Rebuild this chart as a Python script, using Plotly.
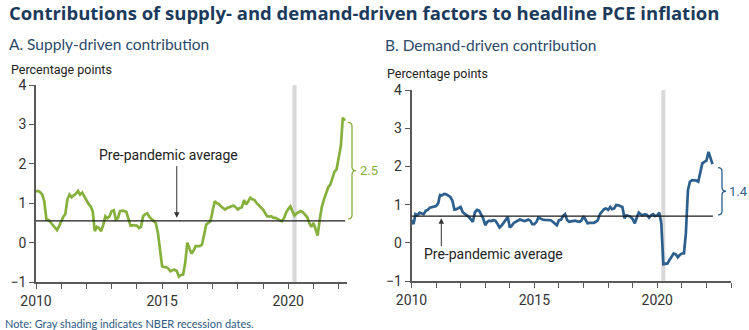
import plotly.graph_objects as go
import pandas as pd

# ---- data (monthly, Jan 2010 - Apr 2022) ----
supply = [
    1.30, 1.31, 1.28, 1.22, 1.05, 0.58, 0.58, 0.52, 0.45, 0.38, 0.32, 0.42,   # 2010
    0.55, 0.66, 0.72, 1.10, 1.22, 1.15, 1.20, 1.24, 1.31, 1.22, 1.27, 1.18,   # 2011
    1.05, 0.98, 0.92, 0.80, 0.29, 0.40, 0.37, 0.29, 0.45, 0.67, 0.62, 0.67,   # 2012
    0.80, 0.82, 0.58, 0.62, 0.80, 0.81, 0.80, 0.78, 0.60, 0.43, 0.44, 0.43,   # 2013
    0.43, 0.37, 0.40, 0.67, 0.72, 0.74, 0.65, 0.60, 0.55, 0.50, 0.25, -0.15,  # 2014
    -0.60, -0.62, -0.62, -0.66, -0.73, -0.70, -0.69, -0.72, -0.86, -0.82, -0.81, -0.52,  # 2015
    0.00, -0.15, -0.28, -0.20, -0.09, -0.09, -0.09, -0.05, 0.20, 0.46, 0.50, 0.54,  # 2016
    0.80, 1.05, 1.00, 0.98, 0.92, 0.88, 0.84, 0.88, 0.90, 0.92, 0.94, 0.90,   # 2017
    0.84, 0.88, 0.90, 1.08, 0.97, 1.05, 1.14, 1.10, 1.08, 1.00, 0.95, 0.88,   # 2018
    0.84, 0.75, 0.67, 0.66, 0.67, 0.63, 0.63, 0.60, 0.57, 0.54, 0.62, 0.76,   # 2019
    0.85, 0.92, 0.80, 0.69, 0.74, 0.78, 0.80, 0.77, 0.71, 0.65, 0.50, 0.40,   # 2020
    0.50, 0.30, 0.18, 0.58, 0.90, 1.09, 1.25, 1.40, 1.47, 1.65, 1.80, 1.86,   # 2021
    2.15, 2.45, 3.17, 3.09,                                                   # 2022
]
demand = [
    0.59, 0.49, 0.75, 0.72, 0.79, 0.76, 0.75, 0.84, 0.86, 0.92, 0.94, 0.95,   # 2010
    0.96, 1.03, 1.25, 1.24, 1.28, 1.27, 1.24, 1.20, 1.10, 0.87, 0.88, 0.92,   # 2011
    0.94, 0.80, 0.77, 0.72, 0.68, 0.62, 0.55, 0.80, 0.86, 0.84, 0.75, 0.64,   # 2012
    0.46, 0.55, 0.58, 0.57, 0.59, 0.58, 0.50, 0.40, 0.45, 0.51, 0.60, 0.68,   # 2013
    0.40, 0.45, 0.52, 0.55, 0.58, 0.61, 0.59, 0.57, 0.58, 0.61, 0.58, 0.49,   # 2014
    0.49, 0.55, 0.66, 0.63, 0.61, 0.60, 0.60, 0.59, 0.59, 0.55, 0.50, 0.46,   # 2015
    0.59, 0.60, 0.70, 0.75, 0.60, 0.55, 0.56, 0.57, 0.58, 0.56, 0.55, 0.58,   # 2016
    0.70, 0.60, 0.51, 0.52, 0.52, 0.52, 0.55, 0.59, 0.75, 0.81, 0.88, 0.90,   # 2017
    0.86, 0.94, 0.88, 0.90, 0.99, 0.98, 0.96, 0.94, 0.64, 0.72, 0.70, 0.68,   # 2018
    0.62, 0.51, 0.65, 0.79, 0.74, 0.72, 0.75, 0.73, 0.66, 0.72, 0.75, 0.70,   # 2019
    0.72, 0.79, 0.51, -0.56, -0.55, -0.54, -0.45, -0.37, -0.28, -0.30, -0.38, -0.32,  # 2020
    -0.28, -0.28, 0.24, 1.38, 1.60, 1.64, 1.64, 1.63, 1.60, 1.80, 2.08, 2.12,  # 2021
    2.15, 2.38, 2.21, 2.06,                                                    # 2022
]
supply_avg = 0.55
demand_avg = 0.70
supply_gap_label = "2.5"
demand_gap_label = "1.4"
left_years = list(range(2010, 2023))
right_years = list(range(2010, 2024))
labelled_years = [2010, 2015, 2020]

GREEN = "#86b03c"
BLUE = "#2c5f8d"
NAVY = "#1b3a5c"
AX = "#595959"

dates_s = pd.date_range("2010-01-01", periods=len(supply), freq="MS")
dates_d = pd.date_range("2010-01-01", periods=len(demand), freq="MS")

fig = go.Figure()
fig.add_trace(go.Scatter(x=dates_s, y=supply, mode="lines", line=dict(color=GREEN, width=2.7),
                         xaxis="x", yaxis="y", showlegend=False))
fig.add_trace(go.Scatter(x=dates_d, y=demand, mode="lines", line=dict(color=BLUE, width=2.7),
                         xaxis="x2", yaxis="y2", showlegend=False))

W, H = 749, 330
def px(x):
    return x / W
def py(y):
    return 1 - y / H

tickfont = dict(family="Roboto, Arial, sans-serif", size=14, color="#333333")
def xaxis(dom, years, rng, anchor):
    return dict(domain=dom, type="date", range=rng, anchor=anchor, automargin=False,
                tickvals=[f"{y}-01-01" for y in years],
                ticktext=[str(y) if y in labelled_years else "" for y in years],
                ticks="outside", ticklen=5, tickwidth=1.2, tickcolor=AX,
                showline=True, linecolor=AX, linewidth=1.5, showgrid=False, zeroline=False,
                tickfont=tickfont, fixedrange=True)
def yaxis(dom, anchor):
    return dict(domain=dom, range=[-1, 4], tickvals=[-1, 0, 1, 2, 3, 4], automargin=False,
                ticks="outside", ticklen=5, tickwidth=1.2, tickcolor=AX, anchor=anchor,
                showline=True, linecolor=AX, linewidth=1.5, showgrid=False, zeroline=False,
                tickfont=tickfont, fixedrange=True)

shapes = []
# recession shading
shapes.append(dict(type="rect", xref="x", yref="y", x0="2020-03-01", x1="2020-05-01", y0=-1, y1=4,
                   fillcolor="#d9d9d9", line=dict(width=0), layer="below"))
shapes.append(dict(type="rect", xref="x2", yref="y2", x0="2020-03-01", x1="2020-05-01", y0=-1, y1=4,
                   fillcolor="#d9d9d9", line=dict(width=0), layer="below"))
# pre-pandemic average lines
shapes.append(dict(type="line", xref="x", yref="y", x0="2010-01-01", x1="2022-04-05",
                   y0=supply_avg, y1=supply_avg, line=dict(color="#1a1a1a", width=1.3)))
shapes.append(dict(type="line", xref="x2", yref="y2", x0="2010-01-01", x1="2022-04-07",
                   y0=demand_avg, y1=demand_avg, line=dict(color="#1a1a1a", width=1.3)))

def brace(xp, ytop, ybot, yref, color, unit):
    w = 4 / W
    c = 4 * unit
    ymid = (ytop + ybot) / 2
    path = (f"M {xp - w},{ytop} Q {xp},{ytop} {xp},{ytop - c} "
            f"L {xp},{ymid + c} Q {xp},{ymid} {xp + w},{ymid} "
            f"Q {xp},{ymid} {xp},{ymid - c} "
            f"L {xp},{ybot + c} Q {xp},{ybot} {xp - w},{ybot}")
    return dict(type="path", xref="paper", yref=yref, path=path,
                line=dict(color=color, width=1.3))

shapes.append(brace(px(352), 3.05, 0.60, "y", GREEN, 1 / 39.3))
shapes.append(brace(px(722), 1.97, 0.73, "y2", BLUE, 1 / 38.5))

annotations = [
    dict(text="<b>Contributions of supply- and demand-driven factors to headline PCE inflation</b>",
         xref="paper", yref="paper", x=px(7), y=py(12), xanchor="left", yanchor="middle",
         showarrow=False, font=dict(family="Open Sans, sans-serif", size=18.5, color=NAVY)),
    dict(text="A. Supply-driven contribution", xref="paper", yref="paper", x=px(7), y=py(44),
         xanchor="left", yanchor="middle", showarrow=False,
         font=dict(family="Lato, sans-serif", size=15.5, color="#2b4a6b")),
    dict(text="B. Demand-driven contribution", xref="paper", yref="paper", x=px(383), y=py(45),
         xanchor="left", yanchor="middle", showarrow=False,
         font=dict(family="Lato, sans-serif", size=15.5, color="#2b4a6b")),
    dict(text="Percentage points", xref="paper", yref="paper", x=px(9), y=py(69),
         xanchor="left", yanchor="middle", showarrow=False,
         font=dict(family="Roboto, sans-serif", size=12.5, color="#222222")),
    dict(text="Percentage points", xref="paper", yref="paper", x=px(385), y=py(73),
         xanchor="left", yanchor="middle", showarrow=False,
         font=dict(family="Roboto, sans-serif", size=12.5, color="#222222")),
    dict(text="Pre-pandemic average", xref="paper", yref="paper", x=px(168), y=py(155),
         xanchor="center", yanchor="middle", showarrow=False,
         font=dict(family="Roboto, sans-serif", size=14, color="#222222")),
    dict(text="Pre-pandemic average", xref="paper", yref="paper", x=px(493), y=py(254),
         xanchor="center", yanchor="middle", showarrow=False,
         font=dict(family="Roboto, sans-serif", size=14, color="#222222")),
    # arrows
    dict(text="", xref="x", yref="y", x="2015-08-01", y=0.63, axref="x", ayref="y",
         ax="2015-08-01", ay=1.98, showarrow=True, arrowhead=2, arrowsize=1.1, arrowwidth=1,
         arrowcolor="#333333"),
    dict(text="", xref="x2", yref="y2", x="2011-03-20", y=0.64, axref="x2", ayref="y2",
         ax="2011-03-20", ay=-0.13, showarrow=True, arrowhead=2, arrowsize=1.1, arrowwidth=1,
         arrowcolor="#333333"),
    # gap labels
    dict(text=supply_gap_label, xref="paper", yref="y", x=px(358), y=1.82, xanchor="left",
         yanchor="middle", showarrow=False,
         font=dict(family="Roboto, sans-serif", size=13, color=GREEN)),
    dict(text=demand_gap_label, xref="paper", yref="y2", x=px(727), y=1.35, xanchor="left",
         yanchor="middle", showarrow=False,
         font=dict(family="Roboto, sans-serif", size=13, color=BLUE)),
    dict(text="Note: Gray shading indicates NBER recession dates.", xref="paper", yref="paper",
         x=px(3), y=py(323), xanchor="left", yanchor="middle", showarrow=False,
         font=dict(family="Lato, sans-serif", size=11, color="#2e5a85")),
]

fig.update_layout(
    width=W, height=H, margin=dict(l=0, r=0, t=0, b=0, autoexpand=False),
    paper_bgcolor="white", plot_bgcolor="white",
    xaxis=xaxis([px(36), px(347)], left_years, ["2010-01-01", "2022-05-01"], "y"),
    yaxis=yaxis([py(282), py(85)], "x"),
    xaxis2=xaxis([px(411.5), px(731)], right_years, ["2010-01-01", "2023-01-01"], "y2"),
    yaxis2=yaxis([py(281), py(90)], "x2"),
    shapes=shapes, annotations=annotations,
)

fig.write_html("out.html")
